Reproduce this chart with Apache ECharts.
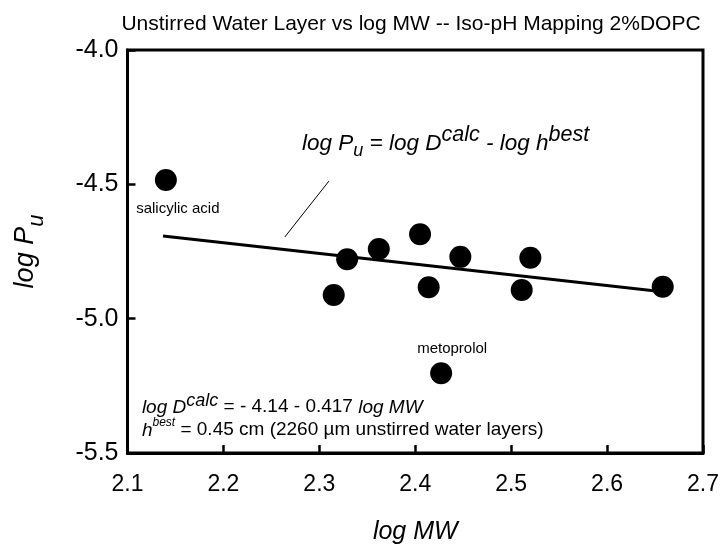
<!DOCTYPE html>
<html><head><meta charset="utf-8">
<script src="https://cdn.jsdelivr.net/npm/echarts@6/dist/echarts.min.js"></script>
<style>html,body{margin:0;padding:0;background:#fff}#c{width:724px;height:547px}</style>
</head><body><div id="c"></div>
<script>
// Data
const logMW   = [2.140, 2.315, 2.329, 2.362, 2.405, 2.414, 2.427, 2.447, 2.511, 2.520, 2.658];
const logPu   = [-4.484, -4.912, -4.779, -4.741, -4.686, -4.883, -5.203, -4.770, -4.893, -4.773, -4.881];
const pointNames = ['salicylic acid', '', '', '', '', '', 'metoprolol', '', '', '', ''];
const fitX = [2.137, 2.658];
const fitY = [-4.692, -4.900];
const leaderX = [2.310, 2.264];
const leaderY = [-4.488, -4.696];
const xTicks = [2.1, 2.2, 2.3, 2.4, 2.5, 2.6, 2.7];
const yTicks = [-5.5, -5.0, -4.5, -4.0];

const FONT = 'Liberation Sans, Arial, sans-serif';
const chart = echarts.init(document.getElementById('c'));
const pts = logMW.map((x, i) => {
  const p = {value: [x, logPu[i]], name: pointNames[i]};
  if (pointNames[i] === 'metoprolol') p.label = {position: 'top', distance: 6, offset: [11, 0]};
  return p;
});

chart.setOption({
  animation: false,
  title: {
    text: 'Unstirred Water Layer vs log MW -- Iso-pH Mapping 2%DOPC',
    left: 406, top: 9, textAlign: 'center',
    textStyle: {fontFamily: FONT, fontWeight: 'normal', fontSize: 21, color: '#000'}
  },
  grid: {left: 127.5, right: 21, top: 50, bottom: 94, containLabel: false, outerBoundsMode: 'none',
         show: true, borderColor: '#000', borderWidth: 3, backgroundColor: 'transparent'},
  xAxis: {
    type: 'value', min: xTicks[0], max: xTicks[xTicks.length - 1], interval: 0.1,
    axisLine: {show: true, onZero: false, lineStyle: {color: '#000', width: 3}},
    axisTick: {show: true, inside: true, length: 8, lineStyle: {color: '#000', width: 2.5}},
    splitLine: {show: false},
    axisLabel: {color: '#000', fontSize: 23, fontFamily: FONT, margin: 20, formatter: v => v.toFixed(1)},
    name: 'log MW', nameLocation: 'middle', nameGap: 67,
    nameTextStyle: {fontSize: 25, fontStyle: 'italic', color: '#000', fontFamily: FONT}
  },
  yAxis: {
    type: 'value', min: yTicks[0], max: yTicks[yTicks.length - 1], interval: 0.5,
    axisLine: {show: true, onZero: false, lineStyle: {color: '#000', width: 3}},
    axisTick: {show: true, inside: true, length: 8, lineStyle: {color: '#000', width: 2.5}},
    splitLine: {show: false},
    axisLabel: {color: '#000', fontSize: 25, fontFamily: FONT, margin: 9, formatter: v => v.toFixed(1)},
    name: '{m|log P}{s|u}', nameLocation: 'middle', nameGap: 80, nameRotate: 90,
    nameTextStyle: {
      color: '#000', fontFamily: FONT,
      rich: {
        m: {fontSize: 27, fontStyle: 'italic', fontFamily: FONT, color: '#000', verticalAlign: 'top', padding: [0, 0, 8, 0]},
        s: {fontSize: 22, fontStyle: 'italic', fontFamily: FONT, color: '#000', verticalAlign: 'top', padding: [14, 0, 0, 0]}
      }
    }
  },
  series: [
    {
      type: 'line', data: fitX.map((x, i) => [x, fitY[i]]), symbol: 'none',
      lineStyle: {color: '#000', width: 3}, z: 2
    },
    {
      type: 'line', data: leaderX.map((x, i) => [x, leaderY[i]]), symbol: 'none',
      lineStyle: {color: '#000', width: 1}, z: 2
    },
    {
      type: 'scatter', data: pts, symbol: 'circle', symbolSize: 22,
      itemStyle: {color: '#000', opacity: 1}, z: 3,
      label: {
        show: true, formatter: p => p.name,
        position: 'bottom', distance: 10, offset: [12, 0],
        color: '#000', fontSize: 15, fontFamily: FONT
      }
    }
  ]
});

const eqPos = chart.convertToPixel({gridIndex: 0}, [2.282, -4.410]);
const calcPos = chart.convertToPixel({gridIndex: 0}, [2.115, -5.365]);
chart.setOption({
  graphic: [
    {
      type: 'text', x: eqPos[0], y: eqPos[1],
      style: {
        text: '{i|log P}{sub|u}{i| = log D}{sup|calc}{i| - log h}{sup|best}',
        fontFamily: FONT, fill: '#000', verticalAlign: 'bottom',
        rich: {
          i: {fontSize: 22.5, fontStyle: 'italic', fontFamily: FONT, verticalAlign: 'bottom', padding: [0, 0, 5, 0]},
          sub: {fontSize: 18, fontStyle: 'italic', fontFamily: FONT, verticalAlign: 'bottom', padding: [0, 0, 0, 0]},
          sup: {fontSize: 21.5, fontStyle: 'italic', fontFamily: FONT, verticalAlign: 'bottom', padding: [0, 0, 14, 0]}
        }
      }
    },
    {
      type: 'text', x: calcPos[0], y: calcPos[1],
      style: {
        text: '{i|log D}{sup|calc}{n| = - 4.14 - 0.417 }{i|log MW}',
        fontFamily: FONT, fill: '#000', verticalAlign: 'bottom',
        rich: {
          i: {fontSize: 19, fontStyle: 'italic', fontFamily: FONT, verticalAlign: 'bottom'},
          n: {fontSize: 19, fontFamily: FONT, verticalAlign: 'bottom'},
          sup: {fontSize: 18, fontStyle: 'italic', fontFamily: FONT, verticalAlign: 'bottom', padding: [0, 0, 7, 0]}
        }
      }
    },
    {
      type: 'text', x: calcPos[0], y: calcPos[1] + 23,
      style: {
        text: '{i|h}{sup|best}{n| = 0.45 cm (2260 \u00b5m unstirred water layers)}',
        fontFamily: FONT, fill: '#000', verticalAlign: 'bottom',
        rich: {
          i: {fontSize: 19, fontStyle: 'italic', fontFamily: FONT, verticalAlign: 'bottom'},
          n: {fontSize: 19, fontFamily: FONT, verticalAlign: 'bottom'},
          sup: {fontSize: 12, fontStyle: 'italic', fontFamily: FONT, verticalAlign: 'bottom', padding: [0, 0, 11, 0]}
        }
      }
    }
  ]
});
</script></body></html>
